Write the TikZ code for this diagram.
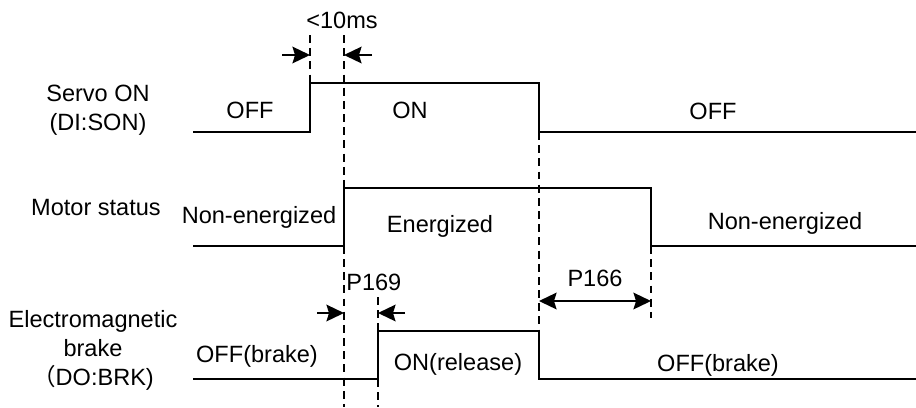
\documentclass[tikz,border=0pt]{standalone}
\usepackage{fontspec}
\setmainfont{Liberation Sans}
\newfontfamily\cjk{Noto Sans CJK SC}
\usetikzlibrary{arrows.meta}

\begin{document}
\begin{tikzpicture}[x=0.02cm,y=-0.02cm, font=\fontsize{13.4}{16.5}\selectfont, sig/.style={line width=1.5pt}, guide/.style={line width=0.7pt,dash pattern=on 4.5pt off 3pt}, arr/.style={-{Stealth[length=10pt,width=9.5pt,inset=1.5pt]},line width=1.1pt}, lbl/.style={align=center,inner sep=0pt}]
\useasboundingbox (0,0) rectangle (916,407);
% waveforms
\draw[sig] (193,132) -| (310,83) -| (539,132) -- (916,132);
\draw[sig] (193,246) -| (344,188) -| (651,246) -- (916,246);
\draw[sig] (193,379) -| (378,331) -| (539,379) -- (916,379);
% guide lines
\draw[guide] (310,35) -- (310,83);
\draw[guide] (344,35) -- (344,407);
\draw[guide] (539,132) -- (539,331);
\draw[guide] (651,246) -- (651,318);
\draw[guide] (378,297) -- (378,331);
\draw[guide] (378,379) -- (378,407);
% arrow ends
\coordinate (d1a) at (282,55);
\coordinate (d1b) at (310,55);
\coordinate (d2a) at (372,55);
\coordinate (d2b) at (344,55);
\coordinate (p1a) at (317,313);
\coordinate (p1b) at (344,313);
\coordinate (p2a) at (405,313);
\coordinate (p2b) at (378,313);
\coordinate (q1) at (539,301);
\coordinate (q2) at (651,301);
\draw[arr] (d1a) -- (d1b);
\draw[arr] (d2a) -- (d2b);
\draw[arr] (p1a) -- (p1b);
\draw[arr] (p2a) -- (p2b);
\draw[arr,{Stealth[length=10pt,width=9.5pt,inset=1.5pt]}-{Stealth[length=10pt,width=9.5pt,inset=1.5pt]}] (q1) -- (q2);
% time labels
\node[lbl] (t10) at (342,20) {<10ms};
\node[lbl,anchor=west] (p169) at (346,282) {P169};
\node[lbl] (p166) at (595,278) {P166};
% signal names
\node[lbl] (servo) at (98,110) {Servo ON\\(DI:SON)};
\node[lbl] (motor) at (96,208) {Motor status};
\node[lbl] (brake) at (93,350) {Electromagnetic\\brake\\{\cjk （}DO:BRK)};
% states
\node[lbl] (s1) at (250,110) {OFF};
\node[lbl] (s2) at (410,110) {ON};
\node[lbl] (s3) at (713,111) {OFF};
\node[lbl] (m1) at (259,217) {Non-energized};
\node[lbl] (m2) at (440,226) {Energized};
\node[lbl] (m3) at (785,223) {Non-energized};
\node[lbl] (b1) at (257,356) {OFF(brake)};
\node[lbl] (b2) at (458,364) {ON(release)};
\node[lbl] (b3) at (718,365) {OFF(brake)};
\end{tikzpicture}
\end{document}
